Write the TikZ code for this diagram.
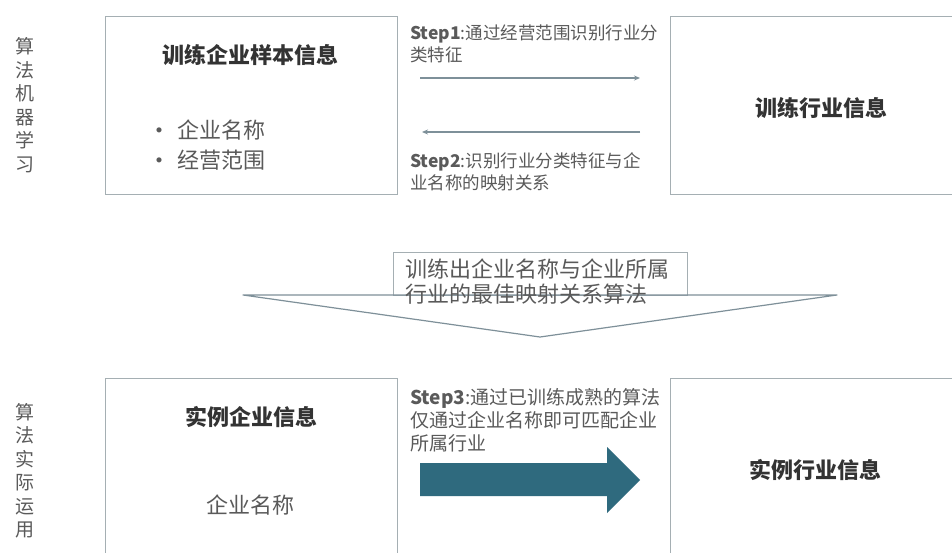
\documentclass[tikz,border=0pt]{standalone}
\usepackage{fontspec}
\setmainfont{Noto Sans CJK SC}
\usepackage{xcolor}
\usetikzlibrary{arrows.meta,positioning,calc}
\definecolor{algink}{HTML}{333333}
\definecolor{alggrey}{HTML}{5A5A5A}
\definecolor{algframe}{HTML}{A5AFB3}
\definecolor{algline}{HTML}{7E9099}
\definecolor{algteal}{HTML}{2F6A7E}

\newcommand{\algdot}{\makebox[30pt][l]{\raisebox{-1pt}{\fontsize{24}{24}\selectfont •}}}

\tikzset{
  panel/.style={draw=algframe, line width=1.2pt, anchor=north west, inner sep=0pt},
  heading/.style={font=\bfseries\fontsize{22}{26}\selectfont, text=algink},
  plain/.style={font=\fontsize{22}{30}\selectfont, text=alggrey},
  steptext/.style={anchor=north west, align=left, inner sep=0pt, font=\fontsize{17.5}{22}\selectfont, text=alggrey},
  sidelabel/.style={align=center, inner sep=0pt, font=\fontsize{19}{23.5}\selectfont, text=alggrey},
  flow/.style={draw=algline, line width=1.2pt, -{Stealth[length=6pt,width=5pt]}}
}

\begin{document}
\begin{tikzpicture}[x=1pt,y=-1pt]
  \clip (0,0) rectangle (952,553);
  \fill[white] (0,0) rectangle (952,553);

  % side labels
  \node[sidelabel] (learnlbl) at (25,105) {算\\法\\机\\器\\学\\习};
  \node[sidelabel] (uselbl) at (25,471) {算\\法\\实\\际\\运\\用};

  % training row
  \node[panel, minimum width=292pt, minimum height=178pt] (trainco) at (105,16) {};
  \node[heading] (traincohead) at (250,55) {训练企业样本信息};
  \node[plain, anchor=west, align=left, inner sep=0pt] (traincolist) at (147,145)
    {\algdot 企业名称\\\algdot 经营范围};

  \node[panel, minimum width=300pt, minimum height=178pt] (trainind) at (670,16) {};
  \node[heading] (trainindhead) at (821,108) {训练行业信息};

  \coordinate (s1a) at (420,78);
  \coordinate (s1b) at (640,78);
  \coordinate (s2a) at (640,132);
  \coordinate (s2b) at (422,132);
  \node[steptext] (step1) at (410,25) {\textbf{Step1}:通过经营范围识别行业分\\类特征};
  \draw[flow] (s1a) -- (s1b);
  \draw[flow] (s2a) -- (s2b);
  \node[steptext] (step2) at (410,152) {\textbf{Step2}:识别行业分类特征与企\\业名称的映射关系};

  % trained result
  \coordinate (vl) at (243,295);
  \coordinate (vt) at (540,337);
  \coordinate (vr) at (837,295);
  \node[panel, minimum width=294pt, minimum height=43pt] (bestmap) at (393,252) {};
  \draw[algline, line width=1.2pt, line join=round] (vl) -- (vt) -- (vr) -- cycle;
  \node[steptext, font=\fontsize{22}{25}\selectfont] (bestmaptext) at (405,259)
    {训练出企业名称与企业所属\\行业的最佳映射关系算法};

  % application row
  \node[panel, minimum width=292pt, minimum height=200pt] (caseco) at (105,378) {};
  \node[heading] (casecohead) at (251,417) {实例企业信息};
  \node[plain] (caseconame) at (250,505) {企业名称};

  \node[panel, minimum width=300pt, minimum height=200pt] (caseind) at (670,378) {};
  \node[heading] (caseindhead) at (815,470) {实例行业信息};

  \node[steptext, font=\fontsize{19}{23}\selectfont] (step3) at (410,388) {\textbf{Step3}:通过已训练成熟的算法\\仅通过企业名称即可匹配企业\\所属行业};
  \fill[algteal] (420,463) -- (607,463) -- (607,447) -- (640,480) -- (607,513)
    -- (607,496) -- (420,496) -- cycle;
\end{tikzpicture}
\end{document}
